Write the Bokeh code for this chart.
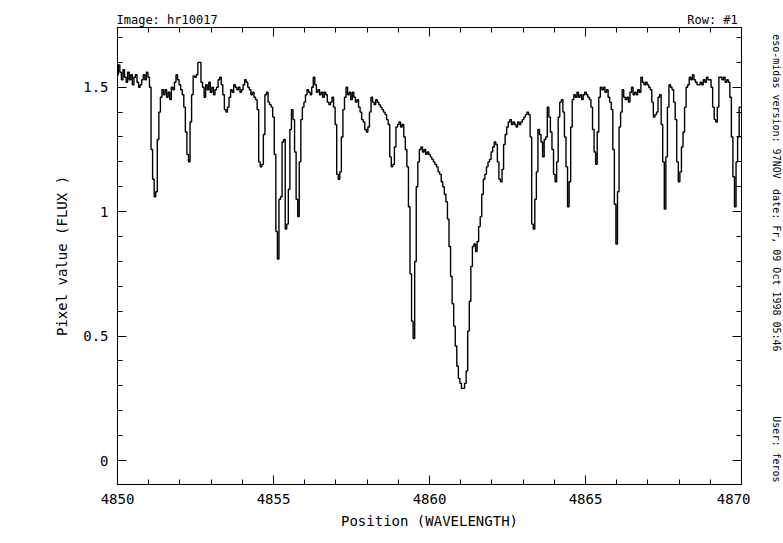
import numpy as np
from bokeh.plotting import figure
from bokeh.models import Range1d, LinearAxis, FixedTicker, Title
from bokeh.layouts import row
from bokeh.core.properties import value
from bokeh.embed import file_html
from bokeh.resources import INLINE

# MIDAS image hr10017, row #1: start / step of the wavelength axis
wave_start = 4850.0
wave_step = 0.05

flux = [
    1.55, 1.59, 1.56, 1.53, 1.57, 1.54, 1.52, 1.56, 1.53, 1.55, 1.51, 1.54, 1.55, 1.52, 1.50, 1.51, 1.53, 1.55, 1.53, 1.56,
    1.54, 1.50, 1.25, 1.13, 1.06, 1.08, 1.29, 1.40, 1.46, 1.49, 1.47, 1.49, 1.46, 1.48, 1.45, 1.50, 1.49, 1.52, 1.55, 1.53,
    1.51, 1.49, 1.47, 1.42, 1.32, 1.23, 1.20, 1.36, 1.47, 1.545, 1.54, 1.55, 1.60, 1.60, 1.52, 1.50, 1.46, 1.51, 1.49, 1.52,
    1.48, 1.50, 1.47, 1.49, 1.50, 1.53, 1.54, 1.51, 1.47, 1.41, 1.40, 1.42, 1.46, 1.49, 1.48, 1.51, 1.50, 1.49, 1.50, 1.48,
    1.49, 1.51, 1.53, 1.52, 1.50, 1.49, 1.47, 1.48, 1.46, 1.45, 1.41, 1.20, 1.18, 1.19, 1.31, 1.47, 1.48, 1.44, 1.43, 1.42,
    1.38, 1.23, 0.92, 0.81, 1.05, 1.06, 1.28, 1.29, 0.93, 0.95, 1.09, 1.33, 1.41, 1.37, 1.24, 1.05, 0.98, 1.20, 1.37, 1.42,
    1.44, 1.47, 1.49, 1.48, 1.47, 1.50, 1.54, 1.51, 1.48, 1.49, 1.47, 1.48, 1.46, 1.48, 1.47, 1.44, 1.43, 1.44, 1.46, 1.42,
    1.35, 1.15, 1.13, 1.16, 1.30, 1.41, 1.46, 1.50, 1.47, 1.48, 1.45, 1.48, 1.46, 1.44, 1.45, 1.42, 1.40, 1.37, 1.36, 1.33,
    1.32, 1.34, 1.40, 1.46, 1.44, 1.43, 1.45, 1.44, 1.43, 1.42, 1.41, 1.40, 1.39, 1.37, 1.35, 1.22, 1.18, 1.19, 1.26, 1.34,
    1.35, 1.36, 1.34, 1.35, 1.30, 1.25, 1.18, 1.02, 0.75, 0.56, 0.49, 0.80, 1.10, 1.20, 1.25, 1.26, 1.24, 1.25, 1.23, 1.24,
    1.23, 1.22, 1.21, 1.20, 1.19, 1.18, 1.16, 1.15, 1.12, 1.10, 1.07, 1.04, 0.97, 0.86, 0.74, 0.63, 0.54, 0.46, 0.38, 0.33,
    0.31, 0.29, 0.29, 0.31, 0.36, 0.52, 0.64, 0.78, 0.86, 0.87, 0.84, 0.88, 0.94, 0.98, 1.07, 1.13, 1.15, 1.18, 1.20, 1.21,
    1.24, 1.26, 1.28, 1.27, 1.20, 1.13, 1.12, 1.17, 1.27, 1.31, 1.34, 1.36, 1.37, 1.35, 1.36, 1.35, 1.34, 1.36, 1.35, 1.36,
    1.37, 1.38, 1.39, 1.40, 1.39, 1.30, 0.95, 0.93, 1.05, 1.16, 1.33, 1.31, 1.28, 1.22, 1.29, 1.30, 1.42, 1.38, 1.32, 1.25,
    1.15, 1.12, 1.20, 1.38, 1.44, 1.45, 1.40, 1.30, 1.18, 1.02, 1.12, 1.34, 1.45, 1.47, 1.46, 1.48, 1.46, 1.47, 1.45, 1.47,
    1.48, 1.47, 1.46, 1.45, 1.42, 1.33, 1.24, 1.19, 1.32, 1.46, 1.50, 1.49, 1.50, 1.48, 1.49, 1.46, 1.44, 1.41, 1.25, 1.03,
    0.87, 1.08, 1.34, 1.40, 1.49, 1.46, 1.45, 1.46, 1.44, 1.48, 1.50, 1.47, 1.48, 1.47, 1.49, 1.48, 1.54, 1.52, 1.51, 1.52,
    1.51, 1.50, 1.49, 1.44, 1.38, 1.39, 1.40, 1.46, 1.47, 1.35, 1.20, 1.01, 1.22, 1.42, 1.51, 1.50, 1.49, 1.44, 1.37, 1.20,
    1.12, 1.16, 1.26, 1.32, 1.42, 1.50, 1.51, 1.54, 1.53, 1.55, 1.53, 1.52, 1.51, 1.51, 1.52, 1.51, 1.53, 1.52, 1.54, 1.53,
    1.53, 1.50, 1.42, 1.37, 1.36, 1.42, 1.54, 1.54, 1.53, 1.54, 1.52, 1.53, 1.52, 1.46, 1.30, 1.14, 1.02, 1.20, 1.30, 1.42,
    1.42,
]
wave = wave_start + wave_step * np.arange(len(flux))

x_major = [4850, 4855, 4860, 4865, 4870]
x_minor = list(range(4850, 4871))
y_major = [0, 0.5, 1, 1.5]
y_major_labels = {0: "0", 0.5: "0.5", 1: "1", 1.5: "1.5"}
y_minor = [round(0.1 * i, 1) for i in range(-1, 18)]

header_left = "Image: hr10017"
header_right = "Row: #1"
side_texts = ["eso-midas version: 97NOV", "date: Fr, 09 Oct 1998 05:46", "User: feros"]

FONT = "DejaVu Sans Mono"
NB = "\u00a0"

p = figure(width=750, height=543, output_backend="svg", toolbar_location=None, title=None,
           x_range=Range1d(4850, 4870), y_range=Range1d(-0.0964, 1.740),
           min_border_left=117, min_border_right=9, min_border_top=27, min_border_bottom=59,
           x_axis_label="Position (WAVELENGTH)", y_axis_label="Pixel value (FLUX )")
p.background_fill_color = "white"
p.border_fill_color = "white"
p.outline_line_color = "black"
p.outline_line_width = 1
p.xgrid.visible = False
p.ygrid.visible = False

p.step(wave, flux, mode="center", line_color="black", line_width=1.4)

xt = FixedTicker(ticks=x_major, minor_ticks=x_minor)
yt = FixedTicker(ticks=y_major, minor_ticks=y_minor)

def style(ax):
    ax.major_tick_in = 9
    ax.major_tick_out = 0
    ax.minor_tick_in = 5
    ax.minor_tick_out = 0
    ax.major_tick_line_color = "black"
    ax.minor_tick_line_color = "black"
    ax.axis_line_color = "black"
    ax.major_label_text_font = FONT
    ax.major_label_text_font_size = "14px"
    ax.major_label_text_color = "black"
    ax.major_label_standoff = 9
    ax.axis_label_text_font = FONT
    ax.axis_label_text_font_size = "14px"
    ax.axis_label_text_font_style = "normal"
    ax.axis_label_text_color = "black"

p.xaxis.ticker = xt
p.yaxis.ticker = yt
p.yaxis.major_label_overrides = y_major_labels
for ax in p.xaxis:
    style(ax)
    ax.axis_label_standoff = 6
for ax in p.yaxis:
    style(ax)
    ax.axis_label_standoff = 10

top = LinearAxis(ticker=xt, major_label_overrides={t: "" for t in x_major})
style(top)
top.major_label_standoff = 0
p.add_layout(top, "above")
right = LinearAxis(ticker=yt, major_label_overrides={t: "" for t in y_major})
style(right)
right.major_label_standoff = 0
p.add_layout(right, "right")

# header line: left and right parts padded with no-break spaces (monospace font)
header = header_left + NB * 65 + header_right
p.add_layout(Title(text=header, align="left", offset=-1, standoff=2,
                   text_font=FONT, text_font_size="12px", text_font_style="normal",
                   text_color="black"), "above")

# narrow strip at the right for the vertical MIDAS info line (pixel coordinates, y up)
side = figure(width=33, height=543, output_backend="svg", toolbar_location=None, title=None,
              x_range=Range1d(0, 33), y_range=Range1d(0, 543),
              x_axis_type=None, y_axis_type=None,
              min_border_left=0, min_border_right=0, min_border_top=0, min_border_bottom=0)
side.outline_line_color = None
side.background_fill_color = "white"
side.border_fill_color = "white"
side.xgrid.visible = False
side.ygrid.visible = False
side.text(x=[26, 26, 26], y=[543 - 8, 543 - 192, 543 - 462], text=side_texts,
          angle=-np.pi / 2, text_align="left", text_baseline="middle",
          text_font=value(FONT), text_font_size="10px", text_color="black")

layout = row(p, side, spacing=0)
open("out.html", "w").write(file_html(layout, INLINE))
